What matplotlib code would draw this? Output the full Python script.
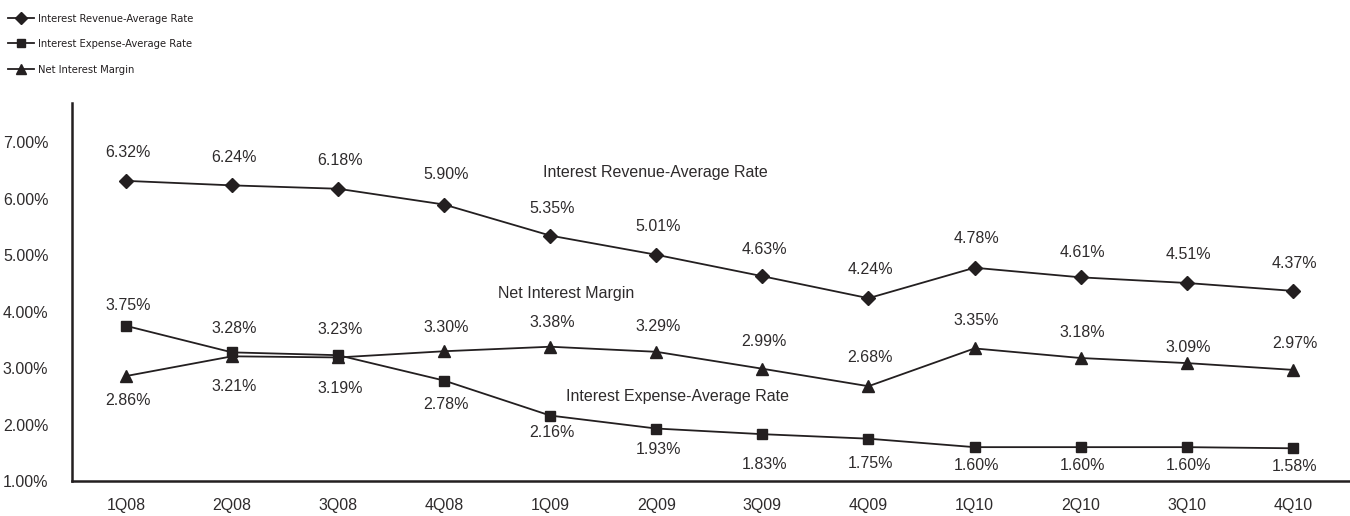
import matplotlib
matplotlib.use("Agg")
import matplotlib.pyplot as plt
from matplotlib import font_manager
from matplotlib.ticker import FuncFormatter

quarters = ["1Q08", "2Q08", "3Q08", "4Q08", "1Q09", "2Q09", "3Q09", "4Q09",
            "1Q10", "2Q10", "3Q10", "4Q10"]
revenue = [6.32, 6.24, 6.18, 5.90, 5.35, 5.01, 4.63, 4.24, 4.78, 4.61, 4.51, 4.37]
expense = [3.75, 3.28, 3.23, 2.78, 2.16, 1.93, 1.83, 1.75, 1.60, 1.60, 1.60, 1.58]
nim = [2.86, 3.21, 3.19, 3.30, 3.38, 3.29, 2.99, 2.68, 3.35, 3.18, 3.09, 2.97]

# label offsets in pixels (positive = above)
rev_off = [28, 28, 28, 30, 27, 28, 27, 29, 29, 25, 28, 27]
exp_off = [20, 24, 26, -24, -17, -21, -30, -25, -18, -18, -18, -18]
nim_off = [-24, -30, -31, 24, 24, 25, 27, 29, 28, 26, 16, 26]

C = "#231f20"
T = "#2e2b2c"
plt.rcParams['font.family'] = ['Liberation Sans', 'DejaVu Sans']

# pick a condensed font for the legend if available
names = {f.name for f in font_manager.fontManager.ttflist}
stretches = {(f.name, f.stretch) for f in font_manager.fontManager.ttflist}
if 'Liberation Sans Narrow' in names:
    leg_prop = {'family': 'Liberation Sans Narrow', 'size': 9.5}
elif any(n == 'DejaVu Sans' and s in ('condensed', 'semi-condensed') for n, s in stretches) \
        or 'DejaVu Sans Condensed' in names:
    leg_prop = {'family': 'DejaVu Sans', 'stretch': 'condensed', 'size': 8}
else:
    leg_prop = {'family': 'Liberation Sans', 'size': 7.5}

fig = plt.figure(figsize=(13.5, 5.16), dpi=100)
ax = fig.add_axes([72/1350, 1 - 481/516, 1 - 72/1350, (481 - 103)/516])

x = list(range(len(quarters)))
l1, = ax.plot(x, revenue, color=C, lw=1.3, marker='D', ms=7, mfc=C, mec=C, clip_on=False)
l2, = ax.plot(x, expense, color=C, lw=1.3, marker='s', ms=7, mfc=C, mec=C, clip_on=False)
l3, = ax.plot(x, nim, color=C, lw=1.3, marker='^', ms=8.5, mfc=C, mec=C, clip_on=False)

for series, offs in ((revenue, rev_off), (expense, exp_off), (nim, nim_off)):
    for xi, v, o in zip(x, series, offs):
        ax.annotate(f"{v:.2f}%", (xi, v), xytext=(2, o), textcoords='offset pixels',
                    ha='center', va='center', fontsize=11.5, color=T)

ax.text(4.99, 6.47, "Interest Revenue-Average Rate", ha='center', va='center', fontsize=11.5, color=T)
ax.text(4.15, 4.33, "Net Interest Margin", ha='center', va='center', fontsize=11.5, color=T)
ax.text(5.20, 2.49, "Interest Expense-Average Rate", ha='center', va='center', fontsize=11.5, color=T)

ax.set_xlim(-0.509, 11.54)
ax.set_ylim(1.0, 7.70)
ax.set_yticks([1, 2, 3, 4, 5, 6, 7])
ax.yaxis.set_major_formatter(FuncFormatter(lambda v, p: f"{v:.2f}%"))
ax.set_xticks(x)
ax.set_xticklabels(quarters)
ax.tick_params(axis='both', length=0, labelsize=11.5, colors=T)
ax.tick_params(axis='y', pad=17)
ax.tick_params(axis='x', pad=12)
for s in ('top', 'right'):
    ax.spines[s].set_visible(False)
for s in ('left', 'bottom'):
    ax.spines[s].set_color(C)
    ax.spines[s].set_linewidth(1.8)

fig.legend([l1, l2, l3],
           ["Interest Revenue-Average Rate", "Interest Expense-Average Rate", "Net Interest Margin"],
           loc='upper left', bbox_to_anchor=(0.0, 1.0 - 6/516), frameon=False,
           prop=leg_prop,
           handlelength=2.4, handletextpad=0.3, labelspacing=1.4, borderaxespad=0.3,
           markerscale=0.85, labelcolor=C)

fig.savefig("out.png", dpi=100)
